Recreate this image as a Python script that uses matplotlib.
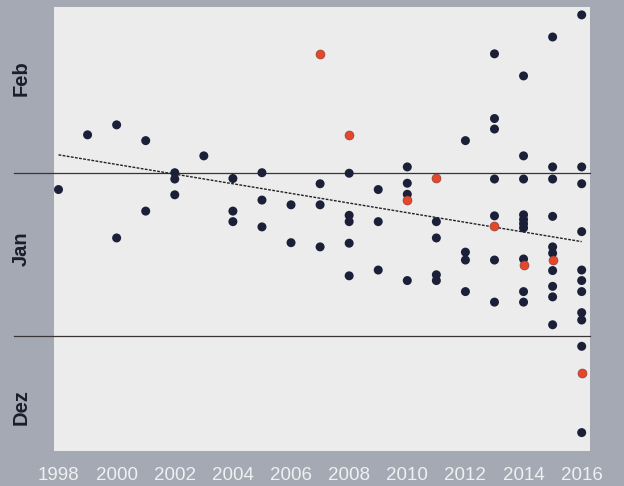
import matplotlib
matplotlib.use("Agg")
import matplotlib.pyplot as plt
import numpy as np

# Day offsets relative to 1 January (0 = Jan 1, 31 = Feb 1, negative = December)
years = list(range(1998, 2017))
dark_days = {
    1998: [27.8],
    1999: [38.2],
    2000: [40.1, 18.6],
    2001: [37.1, 23.7],
    2002: [31.0, 29.8, 26.8],
    2003: [34.2],
    2004: [29.9, 23.7, 21.7],
    2005: [31.0, 25.8, 20.7],
    2006: [24.9, 17.7],
    2007: [28.9, 24.9, 16.9],
    2008: [30.9, 22.9, 21.7, 17.6, 11.4],
    2009: [27.8, 21.7, 12.5],
    2010: [32.1, 29.0, 26.9, 10.5],
    2011: [21.7, 18.6, 11.6, 10.5],
    2012: [37.1, 15.9, 14.4, 8.4],
    2013: [53.6, 41.3, 39.3, 29.8, 22.8, 14.4, 6.4],
    2014: [49.4, 34.2, 29.8, 23.0, 22.1, 21.3, 20.5, 14.6, 8.4, 6.4],
    2015: [56.8, 32.1, 29.8, 22.7, 16.9, 15.7, 12.4, 9.4, 7.4, 2.1],
    2016: [61.0, 32.1, 28.9, 19.8, 12.5, 10.5, 8.4, 4.4, 3.0, -2.0, -18.4],
}
red_years = [2007, 2008, 2010, 2011, 2013, 2014, 2015, 2016]
red_days = [53.6, 38.2, 25.9, 30.0, 20.8, 13.5, 14.5, -7.0]

# trend line
trend_years = [1998, 2016]
trend_days = [34.4, 17.9]

month_bounds = [0, 31]          # Jan 1, Feb 1
month_labels = ["Dez", "Jan", "Feb"]
month_label_pos = [-13.5, 16.5, 49.0]
xtick_years = list(range(1998, 2017, 2))

dx = [y for y in years for _ in dark_days[y]]
dy = [d for y in years for d in dark_days[y]]

fig = plt.figure(figsize=(6.24, 4.86), dpi=100, facecolor="#a4a9b4")
ax = fig.add_axes([54/624, 1-451/486, 536/624, 444/486])
ax.set_facecolor("#ececed")
for s in ax.spines.values():
    s.set_visible(False)

ax.set_xlim(1997.845, 2016.286)
ax.set_ylim(-21.9, 62.5)

# month boundary lines
for b in month_bounds:
    ax.plot([-0.075, 1.0], [b, b], transform=ax.get_yaxis_transform(),
            color="#3b3434", lw=0.9, clip_on=False, zorder=2)

ax.plot(trend_years, trend_days, color="#222222", lw=1.0,
        ls=(0, (2.0, 1.0)), zorder=3)

ax.scatter(dx, dy, s=42, color="#1b2038", edgecolors="none", zorder=4)
ax.scatter(red_years, red_days, s=42, color="#e5472b", edgecolors="#7a3a36",
           linewidths=0.4, zorder=5)

ax.set_xticks(xtick_years)
ax.set_xticklabels([str(y) for y in xtick_years], color="#f0f0f2",
                   fontsize=13.5, family="Liberation Sans")
ax.tick_params(axis="x", length=0, pad=11.5)
ax.set_yticks([])

for lab, pos in zip(month_labels, month_label_pos):
    ax.text(-0.0606, pos, lab, transform=ax.get_yaxis_transform(),
            rotation=90, ha="center", va="center", fontsize=14.5,
            fontweight="bold", color="#1a1d2b", family="Liberation Sans")

fig.savefig("out.png", dpi=100, facecolor=fig.get_facecolor())
